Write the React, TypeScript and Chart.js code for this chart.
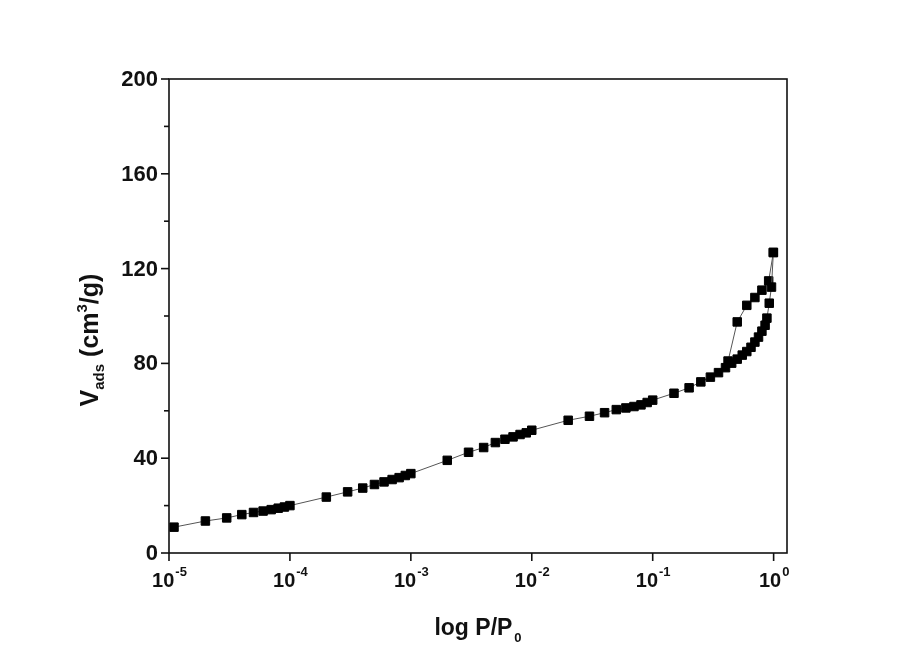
import React, { useEffect, useRef } from "react";
import { Chart, registerables } from "chart.js";

Chart.register(...registerables);

// Nitrogen isotherm: relative pressure P/P0 and adsorbed volume (cm3/g)
const adsorptionP = [
  1.1e-5, 2e-5, 3e-5, 4e-5, 5e-5, 6e-5, 7e-5, 8e-5, 9e-5, 1e-4,
  2e-4, 3e-4, 4e-4, 5e-4, 6e-4, 7e-4, 8e-4, 9e-4, 1e-3,
  2e-3, 3e-3, 4e-3, 5e-3, 6e-3, 7e-3, 8e-3, 9e-3, 1e-2,
  2e-2, 3e-2, 4e-2, 5e-2, 6e-2, 7e-2, 8e-2, 9e-2, 0.1,
  0.15, 0.2, 0.25, 0.3, 0.35, 0.4, 0.45, 0.5, 0.55, 0.6, 0.65,
  0.7, 0.75, 0.8, 0.85, 0.88, 0.92, 0.96, 0.995,
];
const adsorptionV = [
  10.9, 13.5, 14.8, 16.2, 17.1, 17.7, 18.3, 18.9, 19.4, 20.0,
  23.6, 25.8, 27.4, 28.9, 30.0, 31.0, 31.8, 32.7, 33.5,
  39.1, 42.5, 44.5, 46.6, 48.0, 49.0, 50.0, 50.7, 51.8,
  56.0, 57.7, 59.2, 60.5, 61.2, 61.8, 62.5, 63.5, 64.5,
  67.4, 69.7, 72.2, 74.2, 76.1, 78.2, 80.1, 81.8, 83.5, 85.0, 86.8,
  89.0, 91.1, 93.6, 96.1, 99.1, 105.4, 112.2, 126.8,
];
const desorptionP = [0.995, 0.91, 0.8, 0.7, 0.6, 0.5, 0.42];
const desorptionV = [126.8, 114.8, 110.9, 107.8, 104.5, 97.5, 81.0];

// Axis ticks
const xTicks = [1e-5, 1e-4, 1e-3, 1e-2, 1e-1, 1];
const xTickExponents = ["-5", "-4", "-3", "-2", "-1", "0"];
const yTicks = [0, 40, 80, 120, 160, 200];
const yMinorTicks = [20, 60, 100, 140, 180];

const FONT = '"Liberation Sans", Arial, sans-serif';

const axesPlugin = {
  id: "isothermAxes",
  afterDraw(chart: any) {
    const { ctx, chartArea, scales } = chart;
    const { left, right, top, bottom } = chartArea;
    const xs = scales.x;
    const ys = scales.y;
    ctx.save();
    ctx.strokeStyle = "#111";
    ctx.fillStyle = "#111";
    ctx.lineWidth = 1.6;
    ctx.strokeRect(left, top, right - left, bottom - top);

    // y ticks and labels
    ctx.font = `bold 22px ${FONT}`;
    ctx.textAlign = "right";
    ctx.textBaseline = "middle";
    yTicks.forEach((v) => {
      const py = ys.getPixelForValue(v);
      ctx.beginPath();
      ctx.moveTo(left - 8, py);
      ctx.lineTo(left, py);
      ctx.stroke();
      ctx.fillText(String(v), left - 11, py + 1);
    });
    yMinorTicks.forEach((v) => {
      const py = ys.getPixelForValue(v);
      ctx.beginPath();
      ctx.moveTo(left - 5, py);
      ctx.lineTo(left, py);
      ctx.stroke();
    });

    // x ticks and labels (10 with superscript exponent)
    ctx.textBaseline = "alphabetic";
    ctx.textAlign = "left";
    xTicks.forEach((v, i) => {
      const px = xs.getPixelForValue(v);
      ctx.beginPath();
      ctx.moveTo(px, bottom);
      ctx.lineTo(px, bottom + 8);
      ctx.stroke();
      ctx.font = `bold 20px ${FONT}`;
      const baseW = ctx.measureText("10").width;
      ctx.font = `bold 13px ${FONT}`;
      const expW = ctx.measureText(xTickExponents[i]).width;
      const x0 = px - (baseW + expW) / 2;
      ctx.font = `bold 20px ${FONT}`;
      ctx.fillText("10", x0, bottom + 34);
      ctx.font = `bold 13px ${FONT}`;
      ctx.fillText(xTickExponents[i], x0 + baseW + 1, bottom + 23);
    });

    // x title: log P/P0
    ctx.font = `bold 23px ${FONT}`;
    const mainW = ctx.measureText("log P/P").width;
    ctx.font = `bold 13px ${FONT}`;
    const subW = ctx.measureText("0").width;
    const cx = (left + right) / 2;
    const tx = cx - (mainW + subW + 2) / 2;
    ctx.font = `bold 23px ${FONT}`;
    ctx.fillText("log P/P", tx, bottom + 82);
    ctx.font = `bold 13px ${FONT}`;
    ctx.fillText("0", tx + mainW + 2, bottom + 89);

    // y title: V_ads (cm^3/g), rotated
    const parts: [string, number, number][] = [
      ["V", 25, 0],
      ["ads", 15, 6],
      [" (cm", 25, 0],
      ["3", 15, -11],
      ["/g)", 25, 0],
    ];
    let total = 0;
    parts.forEach(([t, s]) => {
      ctx.font = `bold ${s}px ${FONT}`;
      total += ctx.measureText(t).width;
    });
    ctx.translate(98, 340);
    ctx.rotate(-Math.PI / 2);
    let pos = -total / 2;
    parts.forEach(([t, s, dy]) => {
      ctx.font = `bold ${s}px ${FONT}`;
      ctx.fillText(t, pos, dy);
      pos += ctx.measureText(t).width;
    });
    ctx.restore();
  },
};

export default function App() {
  const canvasRef = useRef<HTMLCanvasElement | null>(null);

  useEffect(() => {
    if (!canvasRef.current) return;
    const series = (p: number[], v: number[]) => p.map((x, i) => ({ x, y: v[i] }));
    const common = {
      showLine: true,
      borderColor: "#555",
      borderWidth: 1,
      pointStyle: "rect",
      pointRadius: 6,
      pointBorderWidth: 1,
      pointBackgroundColor: "#000",
      pointBorderColor: "#000",
      clip: false,
    };
    const chart = new Chart(canvasRef.current, {
      type: "scatter",
      data: {
        datasets: [
          { label: "Adsorption", data: series(adsorptionP, adsorptionV), ...common },
          { label: "Desorption", data: series(desorptionP, desorptionV), ...common },
        ],
      },
      options: {
        responsive: true,
        maintainAspectRatio: false,
        animation: false,
        layout: { padding: { left: 169, right: 115, top: 79, bottom: 104 } },
        plugins: { legend: { display: false }, tooltip: { enabled: false } },
        scales: {
          x: { type: "logarithmic", min: 1e-5, max: 1.29, display: false },
          y: { type: "linear", min: 0, max: 200, display: false },
        },
      },
      plugins: [axesPlugin],
    } as any);
    return () => chart.destroy();
  }, []);

  return (
    <div
      style={{
        position: "fixed",
        left: 0,
        top: 0,
        width: 902,
        height: 657,
        background: "#fff",
      }}
    >
      <canvas ref={canvasRef} />
    </div>
  );
}
